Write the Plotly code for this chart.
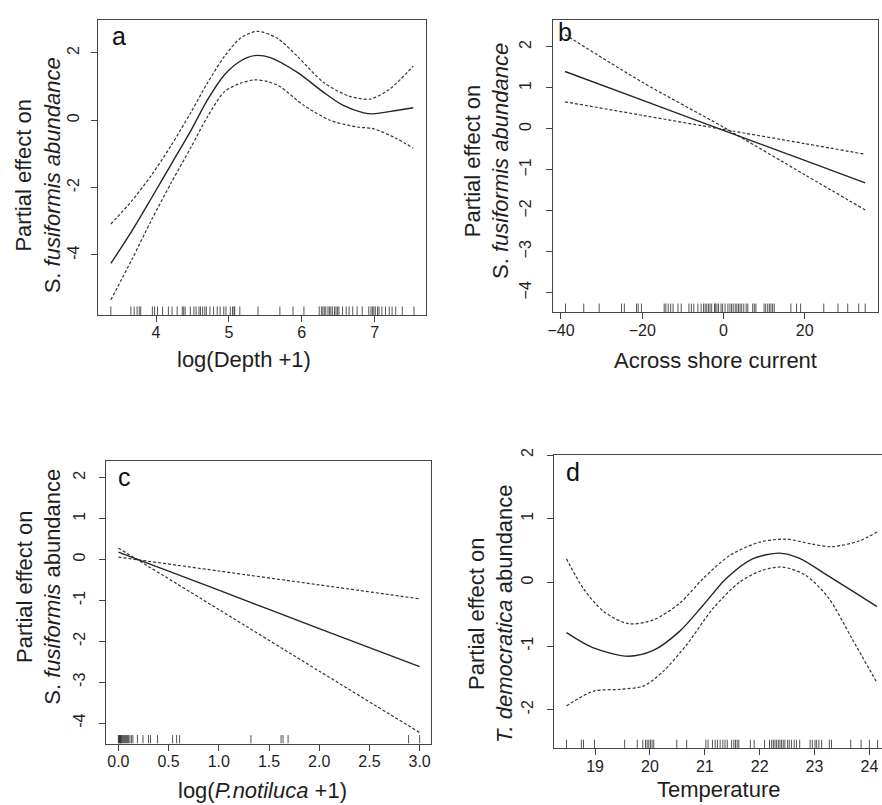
import plotly.graph_objects as go

# ---------------- data ----------------
# Panel a: log(Depth + 1)
a_x = [3.38, 3.665, 3.94, 4.21, 4.48, 4.71, 4.94, 5.16, 5.35, 5.57, 5.94, 6.30, 6.57, 6.85, 6.98, 7.30, 7.53]
a_fit = [-4.25, -3.30, -2.30, -1.30, -0.30, 0.62, 1.35, 1.76, 1.92, 1.86, 1.42, 0.83, 0.44, 0.22, 0.19, 0.29, 0.37]
a_up_x = [3.38, 3.665, 3.94, 4.21, 4.48, 4.71, 4.94, 5.16, 5.39, 5.66, 5.94, 6.30, 6.66, 6.94, 7.21, 7.53]
a_up = [-3.08, -2.40, -1.62, -0.74, 0.24, 1.12, 1.90, 2.44, 2.64, 2.44, 1.90, 1.12, 0.71, 0.63, 0.93, 1.61]
a_lo_x = [3.38, 3.665, 3.94, 4.21, 4.48, 4.71, 4.94, 5.16, 5.35, 5.53, 5.70, 6.03, 6.39, 6.76, 6.98, 7.30, 7.53]
a_lo = [-5.33, -4.15, -2.95, -1.85, -0.80, 0.12, 0.85, 1.10, 1.20, 1.15, 1.00, 0.44, 0.00, -0.20, -0.25, -0.54, -0.83]
a_rug = [3.38, 3.655, 3.70, 3.74, 3.77, 3.79, 3.95, 3.98, 4.02, 4.09, 4.17, 4.22, 4.29, 4.36, 4.38, 4.40,
         4.47, 4.52, 4.55, 4.59, 4.61, 4.64, 4.67, 4.69, 4.74, 4.79, 4.84, 4.88, 4.93, 4.96, 5.02, 5.05,
         5.07, 5.08, 5.15, 5.40, 5.70, 5.88, 6.03, 6.24, 6.27, 6.29, 6.31, 6.33, 6.36, 6.38, 6.40, 6.42,
         6.45, 6.47, 6.49, 6.51, 6.56, 6.61, 6.65, 6.70, 6.76, 6.83, 6.92, 6.95, 6.97, 6.99, 7.01, 7.04,
         7.06, 7.10, 7.15, 7.20, 7.24, 7.29, 7.38, 7.54]
a_xticks = [4, 5, 6, 7]
a_yticks = [-4, -2, 0, 2]
a_yticklabels = ["-4", "-2", "0", "2"]

# Panel b: across shore current (linear term)
b_x = [-39.0, -20.0, 0.0, 20.0, 34.9]
b_fit = [1.40, 0.70, -0.04, -0.77, -1.32]
b_ci1 = [2.30, 1.14, 0.04, -1.12, -1.98]
b_ci2 = [0.66, 0.33, -0.015, -0.36, -0.62]
b_rug = [-38.9, -34.4, -30.6, -25.1, -24.4, -21.4, -21.0, -20.2, -14.6, -14.2, -13.6, -13.0, -12.4,
         -11.2, -10.4, -8.5, -7.9, -7.3, -6.3, -5.5, -4.9, -4.5, -4.1, -3.7, -3.3, -2.9, -2.2, -2.0,
         -1.6, -1.2, -0.6, -0.2, 0.4, 1.1, 1.6, 2.0, 2.4, 2.9, 3.3, 3.7, 4.1, 4.5, 5.0, 5.6, 6.0, 7.2,
         7.6, 8.0, 10.0, 10.4, 10.9, 11.3, 11.7, 12.1, 12.5, 16.6, 18.0, 19.0, 24.7, 28.2, 30.6, 33.3, 34.9]
b_xticks = [-40, -20, 0, 20]
b_xticklabels = ["\u221240", "\u221220", "0", "20"]
b_yticks = [-4, -3, -2, -1, 0, 1, 2]
b_yticklabels = ["\u22124", "\u22123", "\u22122", "\u22121", "0", "1", "2"]

# Panel c: log(P. notiluca + 1) (linear term)
c_x = [0.0, 1.0, 2.0, 3.0]
c_fit = [0.18, -0.75, -1.69, -2.62]
c_ci1 = [0.28, -1.22, -2.73, -4.23]
c_ci2 = [0.06, -0.28, -0.62, -0.96]
c_rug = [0.0, 0.005, 0.01, 0.015, 0.02, 0.025, 0.03, 0.04, 0.05, 0.06, 0.07, 0.08, 0.09, 0.10, 0.115,
         0.13, 0.145, 0.19, 0.245, 0.30, 0.32, 0.39, 0.54, 0.58, 0.61, 1.32, 1.62, 1.64, 1.69, 2.89, 3.0]
c_xticks = [0.0, 0.5, 1.0, 1.5, 2.0, 2.5, 3.0]
c_xticklabels = ["0.0", "0.5", "1.0", "1.5", "2.0", "2.5", "3.0"]
c_yticks = [-4, -3, -2, -1, 0, 1, 2]
c_yticklabels = ["-4", "-3", "-2", "-1", "0", "1", "2"]

# Panel d: temperature
d_x = [18.48, 18.97, 19.61, 20.06, 20.54, 20.97, 21.39, 21.87, 22.36, 22.72, 23.20, 23.68, 24.14]
d_fit = [-0.79, -1.03, -1.16, -1.07, -0.77, -0.36, 0.06, 0.37, 0.46, 0.38, 0.13, -0.13, -0.38]
d_up_x = [18.48, 18.79, 19.16, 19.61, 20.06, 20.54, 20.97, 21.45, 21.99, 22.48, 22.96, 23.32, 23.81, 24.14]
d_up = [0.37, -0.10, -0.46, -0.65, -0.59, -0.33, 0.06, 0.42, 0.63, 0.68, 0.60, 0.56, 0.65, 0.79]
d_lo_x = [18.48, 18.97, 19.46, 19.88, 20.24, 20.67, 21.15, 21.63, 22.05, 22.42, 22.84, 23.26, 23.68, 24.14]
d_lo = [-1.94, -1.71, -1.68, -1.63, -1.40, -0.98, -0.41, 0.0, 0.19, 0.24, 0.11, -0.25, -0.88, -1.58]
d_rug = [18.48, 18.75, 18.79, 18.99, 19.54, 19.77, 19.87, 19.92, 19.95, 19.98, 20.01, 20.04, 20.07, 20.49,
         20.67, 21.02, 21.06, 21.14, 21.19, 21.23, 21.28, 21.33, 21.37, 21.41, 21.49, 21.53, 21.56, 21.59,
         21.62, 21.83, 21.90, 22.09, 22.18, 22.22, 22.25, 22.28, 22.31, 22.34, 22.37, 22.40, 22.43, 22.46,
         22.51, 22.54, 22.58, 22.63, 22.67, 22.73, 22.92, 22.96, 23.01, 23.04, 23.08, 23.13, 23.27, 23.31,
         23.66, 23.85, 24.0, 24.15]
d_xticks = [19, 20, 21, 22, 23, 24]
d_yticks = [-2, -1, 0, 1, 2]
d_yticklabels = ["-2", "-1", "0", "1", "2"]

# ---------------- layout helpers ----------------
W, H = 882, 805
FONT = "Liberation Sans, Arial, Helvetica, sans-serif"
INK = "#1e1e1e"
AX = "#444444"


def xdom(l, r):
    return [l / W, min(r / W, 1.0)]


def ydom(t, b):
    return [1 - b / H, 1 - t / H]


fig = go.Figure()

solid = dict(color="#262626", width=1.4)
dashed = dict(color="#333333", width=1.2, dash="3px,2px")


def add_panel(idx, xs_fit, fit, curves, rug, yr):
    xa = "x" if idx == 1 else f"x{idx}"
    ya = "y" if idx == 1 else f"y{idx}"
    for cx, cy in curves:
        fig.add_trace(go.Scatter(x=cx, y=cy, mode="lines", line=dict(**dashed, shape="spline", smoothing=0.8),
                                 xaxis=xa, yaxis=ya, showlegend=False, hoverinfo="skip"))
    fig.add_trace(go.Scatter(x=xs_fit, y=fit, mode="lines", line=dict(**solid, shape="spline", smoothing=0.8),
                             xaxis=xa, yaxis=ya, showlegend=False, hoverinfo="skip"))
    rx, ry = [], []
    h = 0.03 * (yr[1] - yr[0])
    for v in rug:
        rx += [v, v, None]
        ry += [yr[0], yr[0] + h, None]
    fig.add_trace(go.Scatter(x=rx, y=ry, mode="lines", line=dict(color="rgba(30,30,30,0.75)", width=1),
                             xaxis=xa, yaxis=ya, showlegend=False, hoverinfo="skip"))


ranges = {
    1: ([3.21, 7.70], [-5.79, 2.98]),
    2: ([-42.0, 38.06], [-4.48, 2.66]),
    3: ([-0.119, 3.109], [-4.50, 2.41]),
    4: ([18.25, 24.23], [-2.61, 2.0]),
}

add_panel(1, a_x, a_fit, [(a_up_x, a_up), (a_lo_x, a_lo)], a_rug, ranges[1][1])
add_panel(2, b_x, b_fit, [(b_x, b_ci1), (b_x, b_ci2)], b_rug, ranges[2][1])
add_panel(3, c_x, c_fit, [(c_x, c_ci1), (c_x, c_ci2)], c_rug, ranges[3][1])
add_panel(4, d_x, d_fit, [(d_up_x, d_up), (d_lo_x, d_lo)], d_rug, ranges[4][1])

boxes = {
    1: (94, 13, 423, 311),
    2: (551, 13, 878, 308),
    3: (102, 458, 428, 743),
    4: (552, 452, 890, 748),
}

ticks = {
    1: (a_xticks, [str(t) for t in a_xticks], a_yticks, a_yticklabels),
    2: (b_xticks, b_xticklabels, b_yticks, b_yticklabels),
    3: (c_xticks, c_xticklabels, c_yticks, c_yticklabels),
    4: (d_xticks, [str(t) for t in d_xticks], d_yticks, d_yticklabels),
}

ystand = {1: 6, 2: 8, 3: 8, 4: 7}

common = dict(showline=True, linecolor=AX, linewidth=1, ticks="outside", ticklen=6, tickwidth=1,
              tickcolor=AX, showgrid=False, zeroline=False, tickfont=dict(family=FONT, size=16, color=INK),
              fixedrange=True)

layout = {}
for i in range(1, 5):
    l, t, r, b = boxes[i]
    xr, yr = ranges[i]
    xt, xtl, yt, ytl = ticks[i]
    xk = "xaxis" if i == 1 else f"xaxis{i}"
    yk = "yaxis" if i == 1 else f"yaxis{i}"
    ya = "y" if i == 1 else f"y{i}"
    xa = "x" if i == 1 else f"x{i}"
    layout[xk] = dict(common, domain=xdom(l, r), range=xr, anchor=ya, mirror=True,
                      tickmode="array", tickvals=xt, ticktext=xtl, ticklabelstandoff=-3)
    layout[yk] = dict(common, domain=ydom(t, b), range=yr, anchor=xa, mirror=(i != 4),
                      tickmode="array", tickvals=yt, ticktext=ytl, tickangle=-90,
                      ticklabelstandoff=ystand[i])

fig.update_layout(**layout)

ann = []
TS = 22
# x axis titles
for txt, x, y in [("log(Depth +1)", 240, 356), ("Across shore current", 715, 357),
                  ("log(<i>P.notiluca</i> +1)", 259, 790), ("Temperature", 718, 789)]:
    ann.append(dict(text=txt, x=x / W, y=1 - y / H, xref="paper", yref="paper", showarrow=False,
                    xanchor="center", yanchor="middle", font=dict(family=FONT, size=TS, color=INK)))
# y axis titles
for txt, x, y in [("Partial effect on<br>S. <i>fusiformis abundance</i>", 33, 170),
                  ("Partial effect on<br>S. <i>fusiformis abundance</i>", 484, 155),
                  ("Partial effect on<br>S. <i>fusiformis</i> abundance", 34, 585),
                  ("Partial effect on<br><i>T. democratica</i> abundance", 488, 612)]:
    ann.append(dict(text=txt, x=x / W, y=1 - y / H, xref="paper", yref="paper", showarrow=False,
                    textangle=-90, xanchor="center", yanchor="middle",
                    font=dict(family=FONT, size=TS, color=INK)))
# panel letters
for txt, x, y in [("a", 115, 29), ("b", 563, 25), ("c", 120, 474), ("d", 571, 469)]:
    ann.append(dict(text=txt, x=x / W, y=1 - y / H, xref="paper", yref="paper", showarrow=False,
                    xanchor="center", yanchor="middle", font=dict(family=FONT, size=25, color="#111111")))

fig.update_layout(width=W, height=H, margin=dict(l=0, r=0, t=0, b=0), paper_bgcolor="white",
                  plot_bgcolor="white", annotations=ann, showlegend=False)

fig.write_html("out.html")
